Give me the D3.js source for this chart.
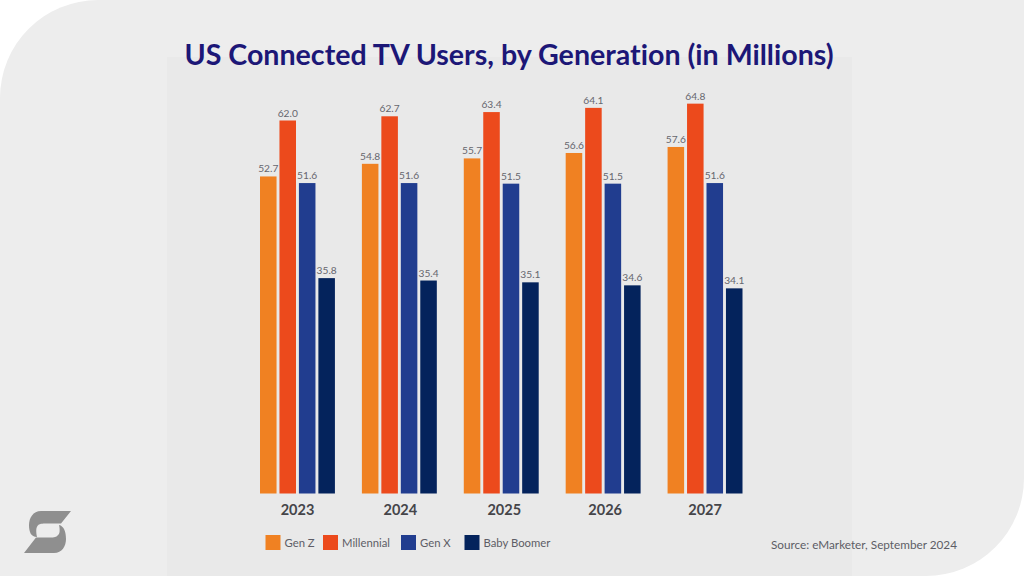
<!DOCTYPE html>
<html>
<head>
<meta charset="utf-8">
<script src="https://cdnjs.cloudflare.com/ajax/libs/d3/7.8.5/d3.min.js"></script>
<style>
  html, body { margin: 0; padding: 0; background: #fff; }
  svg { display: block; font-family: Lato, sans-serif; font-variant-ligatures: none; }
</style>
</head>
<body>
<svg id="chart" width="1024" height="576"></svg>
<script>
const years = ['2023', '2024', '2025', '2026', '2027'];
const seriesNames = ['Gen Z', 'Millennial', 'Gen X', 'Baby Boomer'];
const genZ = [52.7, 54.8, 55.7, 56.6, 57.6];
const millennial = [62.0, 62.7, 63.4, 64.1, 64.8];
const genX = [51.6, 51.6, 51.5, 51.5, 51.6];
const babyBoomer = [35.8, 35.4, 35.1, 34.6, 34.1];
const seriesValues = [genZ, millennial, genX, babyBoomer];
const seriesColors = ['#f08122', '#ec4a1c', '#213d8f', '#04235c'];

var WIDTH = 1024;
var HEIGHT = 576;

// hand placed in the original, not evenly spaced
var legendLeft = [265.5, 323, 401, 464.5];
var yearNudge = [0, 1, 3, 2, 0];

var svg = d3.select('#chart');

// background card, only two corners are rounded
var r = 98;
var card = d3.path();
card.moveTo(r, 0);
card.lineTo(WIDTH, 0);
card.lineTo(WIDTH, HEIGHT - r);
card.arcTo(WIDTH, HEIGHT, WIDTH - r, HEIGHT, r);
card.lineTo(0, HEIGHT);
card.lineTo(0, r);
card.arcTo(0, 0, r, 0, r);
card.closePath();
svg.append('path').attr('d', card.toString()).attr('fill', '#ededed');

svg.append('rect')
  .attr('x', 167).attr('y', 57)
  .attr('width', 685).attr('height', 519)
  .attr('fill', '#e9e9e9');

svg.append('text')
  .attr('x', 509).attr('y', 65)
  .attr('text-anchor', 'middle')
  .attr('font-size', 28.6)
  .attr('font-weight', 700)
  .attr('fill', '#1c1777')
  .text('US Connected TV Users, by Generation (in Millions)');

var x0 = d3.scaleBand().domain(years).range([260, 742.5]).paddingInner(27 / 102);
var x1 = d3.scaleBand().domain(seriesNames).range([0, x0.bandwidth()]).paddingInner(0.15);
var y = d3.scaleLinear().domain([0, 62]).range([493.5, 120.5]);

var groups = svg.selectAll('g.year')
  .data(years)
  .enter().append('g')
  .attr('class', 'year')
  .attr('transform', function(d) { return 'translate(' + x0(d) + ',0)'; });

var cells = groups.selectAll('g.cell')
  .data(function(d, i) {
    return seriesNames.map(function(name, s) {
      return { name: name, value: seriesValues[s][i], color: seriesColors[s] };
    });
  })
  .enter().append('g')
  .attr('class', 'cell');

cells.append('rect')
  .attr('x', function(d) { return x1(d.name); })
  .attr('y', function(d) { return y(d.value); })
  .attr('width', x1.bandwidth())
  .attr('height', function(d) { return y(0) - y(d.value); })
  .attr('fill', function(d) { return d.color; });

cells.append('text')
  .attr('x', function(d) { return x1(d.name) + x1.bandwidth() / 2; })
  .attr('y', function(d) { return y(d.value) - 4; })
  .attr('text-anchor', 'middle')
  .attr('font-size', 10.2)
  .attr('fill', '#66666e')
  .text(function(d) { return d.value.toFixed(1); });

var axis = svg.append('g')
  .attr('transform', 'translate(0,' + y(0) + ')')
  .call(d3.axisBottom(x0).tickSize(0).tickPadding(11));
axis.select('.domain').remove();
axis.selectAll('text')
  .attr('dx', function(d, i) { return yearNudge[i]; })
  .attr('font-family', 'Lato, sans-serif')
  .attr('font-size', 14.5)
  .attr('font-weight', 700)
  .attr('fill', '#454549');

seriesNames.forEach(function(name, i) {
  svg.append('rect')
    .attr('x', legendLeft[i]).attr('y', 535)
    .attr('width', 15).attr('height', 15)
    .attr('fill', seriesColors[i]);
  svg.append('text')
    .attr('x', legendLeft[i] + 19).attr('y', 547)
    .attr('font-size', 11.3)
    .attr('fill', '#5d5d66')
    .text(name);
});

svg.append('text')
  .attr('x', 771).attr('y', 549)
  .attr('font-size', 11.75)
  .attr('fill', '#5d5d66')
  .text('Source: eMarketer, September 2024');

// logo
svg.append('path')
  .attr('fill', '#8f8f8f')
  .attr('d', 'M71,511 L41,511 C33,511 29,518 29,525 C29,532 31,537 37,537 C36,533 36,528 37,527 C38,524 41,523.5 45,523.5 L61,523.5 Z');
svg.append('path')
  .attr('fill', '#8f8f8f')
  .attr('d', 'M24,553 L54,553 C62,553 66,546 66,539 C66,532 64,526 59,525 C60,529 60,534 58,535 C57,537 54,537.5 50,537.5 L36,537.5 Z');
</script>
</body>
</html>
